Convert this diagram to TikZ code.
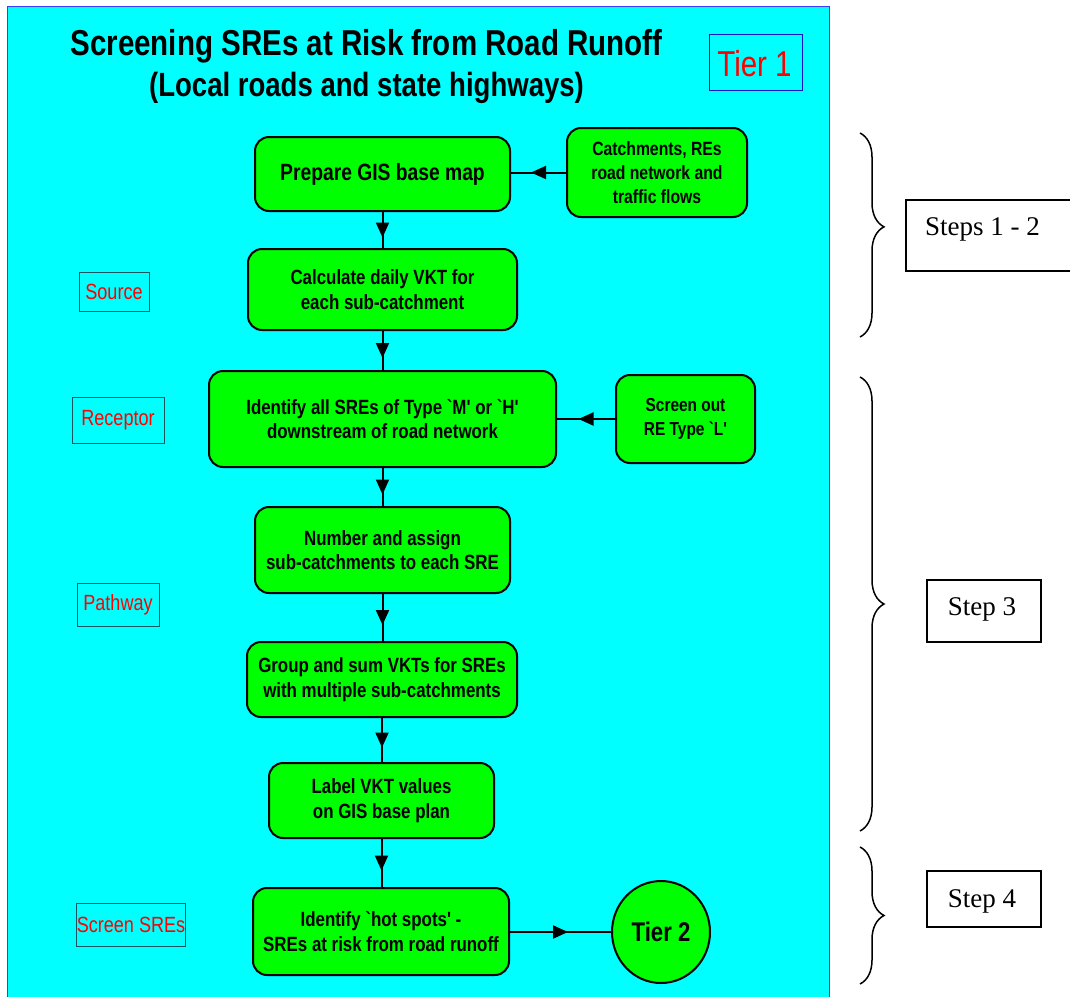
\documentclass[tikz,border=0pt]{standalone}
\usepackage{fontspec}
\setmainfont{Liberation Sans}
\newfontfamily\narrowfont{Liberation Sans}[FakeStretch=0.82, Ligatures=TeXOff]
\newfontfamily\timesfont{Liberation Serif}
\usetikzlibrary{shapes.geometric,arrows.meta,decorations.markings,decorations.pathreplacing}
\definecolor{cyanbg}{RGB}{0,255,255}
\definecolor{greenfill}{RGB}{0,255,0}
\definecolor{panelblue}{RGB}{60,60,255}
\definecolor{tierblue}{RGB}{20,20,200}
\definecolor{labred}{RGB}{255,0,0}
\definecolor{labborder}{RGB}{20,85,95}
\tikzset{
  gbox/.style={draw=black, line width=2pt, fill=greenfill, rounded corners=14pt,
    align=center, inner sep=0pt, font=\narrowfont\bfseries\fontsize{20.6}{24.5}\selectfont},
  redlab/.style={draw=labborder, line width=1pt, inner sep=0pt,
    text=labred, font=\narrowfont\fontsize{22}{26}\selectfont},
  stepbox/.style={draw=black, line width=1.5pt, fill=white, inner sep=0pt},
  steptext/.style={anchor=base, inner sep=0pt, font=\timesfont\fontsize{27}{30}\selectfont},
  midarrow/.style={draw=black, line width=2pt, postaction={decorate},
    decoration={markings, mark=at position 0.5 with {\arrow[xshift=7.5pt]{Triangle[length=15pt,width=13pt]}}}},
  bracestyle/.style={draw=black, line width=1.5pt, decorate,
    decoration={brace, amplitude=24pt}}
}
\begin{document}
\begin{tikzpicture}[x=1pt,y=-1pt]
\useasboundingbox (0,0) rectangle (1070,996);
\clip (0,0) rectangle (1070,996);
\fill[white] (0,0) rectangle (1070,996);
% panel
\draw[panelblue, line width=1pt, fill=cyanbg] (7,1005) -- (7,6) -- (829,6) -- (829,1005);
% title
\node[anchor=base, inner sep=0pt, font=\narrowfont\bfseries\fontsize{36}{40}\selectfont] (title1) at (366.5,55) {Screening SREs at Risk from Road Runoff};
\node[anchor=base, inner sep=0pt, font=\narrowfont\bfseries\fontsize{33.6}{38}\selectfont] (title2) at (366.5,96) {(Local roads and state highways)};
\node[draw=tierblue, line width=1pt, minimum width=93pt, minimum height=56pt, inner sep=0pt] (tier1box) at (755.5,62) {};
\node[anchor=base, inner sep=0pt, text=labred, font=\narrowfont\fontsize{36}{40}\selectfont] (tier1) at (754.5,76) {Tier 1};
% red labels
\node[redlab, minimum width=70pt, minimum height=39pt] (source) at (114,291.5) {Source};
\node[redlab, minimum width=92pt, minimum height=46pt] (receptor) at (118,420) {Receptor};
\node[redlab, minimum width=82pt, minimum height=43pt] (pathway) at (118,604.5) {Pathway};
\node[redlab, minimum width=106pt, minimum height=43pt] (screen) at (131,924.5) {Screen SREs};
% green boxes
\node[gbox, minimum width=255pt, minimum height=74pt, font=\narrowfont\bfseries\fontsize{23.5}{26}\selectfont] (prep) at (382.5,174) {Prepare GIS base map};
\node[gbox, minimum width=180pt, minimum height=89pt, font=\narrowfont\bfseries\fontsize{19.2}{24}\selectfont] (catch) at (657,172.5) {Catchments, REs\\road network and\\traffic flows};
\node[gbox, minimum width=269pt, minimum height=81pt] (calc) at (382.5,289.5) {Calculate daily VKT for\\each sub-catchment};
\node[gbox, minimum width=347pt, minimum height=96pt] (ident) at (382.5,419) {Identify all SREs of Type `M' or `H'\\downstream of road network};
\node[gbox, minimum width=139pt, minimum height=88pt, font=\narrowfont\bfseries\fontsize{18.8}{24}\selectfont] (scrout) at (685.5,419) {Screen out\\RE Type `L'};
\node[gbox, minimum width=255pt, minimum height=86pt] (num) at (382.5,550) {Number and assign\\sub-catchments to each SRE};
\node[gbox, minimum width=270pt, minimum height=75pt] (grp) at (382,679.5) {Group and sum VKTs for SREs\\with multiple sub-catchments};
\node[gbox, minimum width=225pt, minimum height=75pt] (lab) at (381.5,800.5) {Label VKT values\\on GIS base plan};
\node[gbox, minimum width=256pt, minimum height=87pt] (hot) at (381,931.5) {Identify `hot spots' -\\SREs at risk from road runoff};
\node[draw=black, line width=2pt, fill=greenfill, ellipse, minimum width=98pt, minimum height=102pt, inner sep=0pt,
  font=\narrowfont\bfseries\fontsize{27}{30}\selectfont] (tier2) at (661,932) {Tier 2};
% connectors
\path[midarrow] (prep.south) -- (prep.south |- calc.north);
\path[midarrow] (catch.west) -- (catch.west -| prep.east);
\path[midarrow] (calc.south) -- (calc.south |- ident.north);
\path[midarrow] (scrout.west) -- (scrout.west -| ident.east);
\path[midarrow] (ident.south) -- (ident.south |- num.north);
\path[midarrow] (num.south) -- (num.south |- grp.north);
\path[midarrow] (grp.south) -- (grp.south |- lab.north);
\path[midarrow] (lab.south) -- (lab.south |- hot.north);
\path[midarrow] (hot.east |- tier2.west) -- (tier2.west);
% braces
\coordinate (b1a) at (860,133);
\coordinate (b1b) at (860,337);
\coordinate (b2a) at (860,377);
\coordinate (b2b) at (860,831);
\coordinate (b3a) at (860,847);
\coordinate (b3b) at (860,984);
\draw[bracestyle, decoration={aspect=0.46}] (b1a) -- (b1b);
\draw[bracestyle, decoration={aspect=0.5}] (b2a) -- (b2b);
\draw[bracestyle, decoration={aspect=0.5}] (b3a) -- (b3b);
% step boxes
\node[stepbox, anchor=north west, minimum width=185pt, minimum height=71pt] (s12box) at (905,199) {};
\node[steptext, anchor=base west] (s12) at (925,235) {Steps 1 - 2};
\node[stepbox, minimum width=114pt, minimum height=62pt] (s3box) at (984,611) {};
\node[steptext] (s3) at (982,615) {Step 3};
\node[stepbox, minimum width=114pt, minimum height=56pt] (s4box) at (984,899) {};
\node[steptext] (s4) at (982,907) {Step 4};
\end{tikzpicture}
\end{document}
